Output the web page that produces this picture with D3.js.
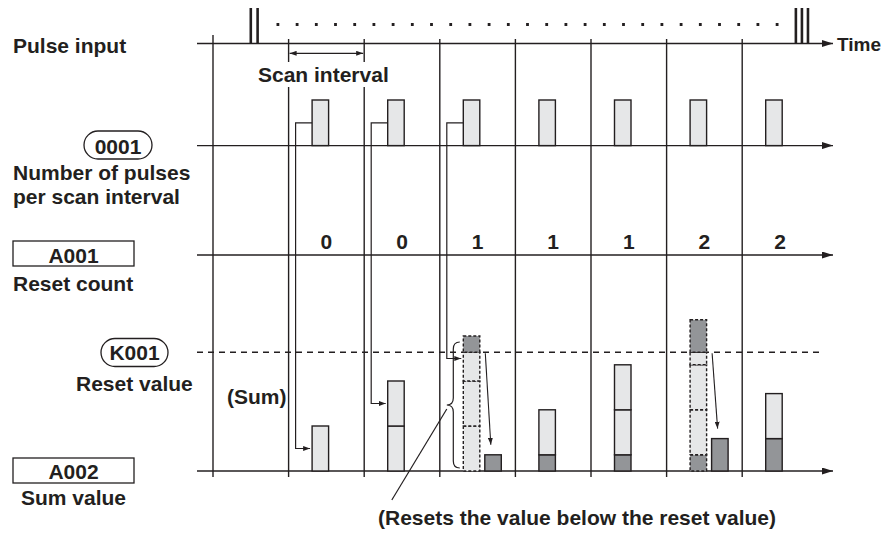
<!DOCTYPE html>
<html>
<head>
<meta charset="utf-8">
<script src="https://cdn.jsdelivr.net/npm/d3@7"></script>
<style>
  body { margin: 0; background: #fff; }
  text { font-family: "Liberation Sans", Arial, sans-serif; font-weight: bold; fill: #231f20; }
</style>
</head>
<body>
<div id="chart"></div>
<script>
// Values (one pulse arrives per scan interval)
var intervals    = [0, 1, 2, 3, 4, 5, 6],
    pulseCounts  = [1, 1, 1, 1, 1, 1, 1],
    resetCounts  = ["0", "0", "1", "1", "1", "2", "2"],
    carried      = [0, 0, 0, 0.36, 0.36, 0.36, 0.72],   // remainder kept after a reset
    added        = [1, 2, 3, 1, 2, 3, 1],                // pulses summed since the last reset
    remainder    = [null, null, 0.36, null, null, 0.72, null],
    resetValue   = 2.64,
    feedback     = [0, 1, 2],
    trainStart   = [0.5, 0.59],
    trainEnd     = [7.71, 7.79, 7.87];

var width = 891, height = 534,
    ink = "#231f20", light = "#e6e7e8", dark = "#939598";

var svg = d3.select("#chart").append("svg")
  .attr("width", width).attr("height", height);

var defs = svg.append("defs");
function marker(id, len, wid) {
  defs.append("marker")
    .attr("id", id)
    .attr("markerUnits", "userSpaceOnUse")
    .attr("viewBox", "0 0 " + len + " " + wid)
    .attr("refX", len).attr("refY", wid / 2)
    .attr("markerWidth", len).attr("markerHeight", wid)
    .attr("orient", "auto-start-reverse")
    .append("path")
      .attr("d", "M0,0L" + len + "," + (wid / 2) + "L0," + wid + "Z")
      .attr("fill", ink);
}
marker("axisArrow", 11, 7);
marker("smallArrow", 7, 5);

// time runs along x: gridline k sits at t(k), interval i spans t(i+1)..t(i+2)
var t = d3.scaleLinear().domain([0, 8]).range([213, 817.8]);
var yPulse = d3.scaleLinear().domain([0, 1]).range([145.6, 100]);
var ySum = d3.scaleLinear().domain([0, 1]).range([471, 426]);

var rowY = [43.5, yPulse(0), 255, ySum(0)];
var barW = 16.5, barOff = 23.5, remOff = 45;

// vertical gridlines
var gx = svg.append("g").attr("stroke", ink).attr("stroke-width", 1.4);
d3.range(8).forEach(function(k) {
  var top = k === 0 ? 35 : 39;
  if (k === 1 || k === 2) {
    gx.append("line").attr("x1", t(k)).attr("x2", t(k)).attr("y1", top).attr("y2", 62);
    gx.append("line").attr("x1", t(k)).attr("x2", t(k)).attr("y1", 87).attr("y2", 477);
  } else {
    gx.append("line").attr("x1", t(k)).attr("x2", t(k)).attr("y1", top).attr("y2", 477);
  }
});

// horizontal time axes
svg.append("g").selectAll("line").data(rowY).enter().append("line")
  .attr("x1", 197).attr("x2", 833)
  .attr("y1", function(d) { return d; }).attr("y2", function(d) { return d; })
  .attr("stroke", ink).attr("stroke-width", 1.4)
  .attr("marker-end", "url(#axisArrow)");

// reset value level
svg.append("line")
  .attr("x1", 197).attr("x2", 822)
  .attr("y1", ySum(resetValue)).attr("y2", ySum(resetValue))
  .attr("stroke", ink).attr("stroke-width", 1.4)
  .attr("stroke-dasharray", "6,5");

// pulse train on the top row
svg.append("g").selectAll("line").data(trainStart.concat(trainEnd)).enter().append("line")
  .attr("x1", function(d) { return t(d); }).attr("x2", function(d) { return t(d); })
  .attr("y1", 8).attr("y2", rowY[0])
  .attr("stroke", ink).attr("stroke-width", 2.6);

svg.append("line")
  .attr("x1", t(0.84)).attr("x2", t(7.6))
  .attr("y1", 24.5).attr("y2", 24.5)
  .attr("stroke", ink).attr("stroke-width", 2.8)
  .attr("stroke-dasharray", "2.8,16.4");

// scan interval marker
svg.append("line")
  .attr("x1", t(1) + 1).attr("x2", t(2) - 1)
  .attr("y1", 53.3).attr("y2", 53.3)
  .attr("stroke", ink).attr("stroke-width", 1.3)
  .attr("marker-start", "url(#smallArrow)")
  .attr("marker-end", "url(#smallArrow)");

// pulses per scan interval
svg.append("g").selectAll("rect").data(intervals).enter().append("rect")
  .attr("x", function(i) { return t(i + 1) + barOff; })
  .attr("y", function(i) { return yPulse(pulseCounts[i]); })
  .attr("width", barW)
  .attr("height", function(i) { return yPulse(0) - yPulse(pulseCounts[i]); })
  .attr("fill", light).attr("stroke", ink).attr("stroke-width", 1.4);

// reset count numbers
svg.append("g").selectAll("text").data(intervals).enter().append("text")
  .attr("x", function(i) { return t(i + 1.5); })
  .attr("y", 249)
  .attr("text-anchor", "middle")
  .attr("font-size", 21)
  .text(function(i) { return resetCounts[i]; });

// stacked sum bars
function segments(i) {
  var c = carried[i], total = c + added[i], over = total > resetValue, segs = [];
  if (c > 0) segs.push({ a: 0, b: c, fill: dark, dashed: over });
  for (var k = 0; k < added[i]; k++) {
    var a = c + k, b = c + k + 1;
    if (over && a < resetValue && b > resetValue) {
      segs.push({ a: a, b: resetValue, fill: light, dashed: true });
      segs.push({ a: resetValue, b: b, fill: dark, dashed: true });
    } else {
      segs.push({ a: a, b: b, fill: light, dashed: over });
    }
  }
  segs.forEach(function(s) { s.i = i; });
  return segs;
}

var sumG = svg.append("g");
intervals.forEach(function(i) {
  sumG.append("g").selectAll("rect").data(segments(i)).enter().append("rect")
    .attr("x", function(s) { return t(s.i + 1) + barOff; })
    .attr("y", function(s) { return ySum(s.b); })
    .attr("width", barW)
    .attr("height", function(s) { return ySum(s.a) - ySum(s.b); })
    .attr("fill", function(s) { return s.fill; })
    .attr("stroke", ink).attr("stroke-width", 1.4)
    .attr("stroke-dasharray", function(s) { return s.dashed ? "3,2" : null; });
});

// remainder after reset, with arrows from the reset level
var rem = intervals.filter(function(i) { return remainder[i] !== null; });
svg.append("g").selectAll("rect").data(rem).enter().append("rect")
  .attr("x", function(i) { return t(i + 1) + remOff; })
  .attr("y", function(i) { return ySum(remainder[i]); })
  .attr("width", barW)
  .attr("height", function(i) { return ySum(0) - ySum(remainder[i]); })
  .attr("fill", dark).attr("stroke", ink).attr("stroke-width", 1.4);

svg.append("g").selectAll("line").data(rem).enter().append("line")
  .attr("x1", function(i) { return t(i + 1) + remOff + 0.5; })
  .attr("y1", ySum(resetValue) + 1)
  .attr("x2", function(i) { return t(i + 1) + remOff + 6; })
  .attr("y2", function(i) { return ySum(remainder[i]) - 10; })
  .attr("stroke", ink).attr("stroke-width", 1.1)
  .attr("marker-end", "url(#smallArrow)");

// pulses fed into the sum
svg.append("g").selectAll("path").data(feedback).enter().append("path")
  .attr("d", function(i) {
    var bx = t(i + 1) + barOff, vx = t(i + 1) + 7;
    return "M" + bx + "," + yPulse(0.5) + "H" + vx +
           "V" + ySum(carried[i] + added[i] - 0.5) + "H" + (bx - 2);
  })
  .attr("fill", "none").attr("stroke", ink).attr("stroke-width", 1.2)
  .attr("marker-end", "url(#smallArrow)");

// brace around the overflowing sum
var bi = 2, bxr = t(bi + 1) + 20, bxm = t(bi + 1) + 13.5, bxt = t(bi + 1) + 7,
    byT = ySum(added[bi]) + 6, byB = ySum(0) - 3, byM = (byT + byB) / 2;
svg.append("path")
  .attr("d", "M" + bxr + "," + byT + "Q" + bxm + "," + byT + " " + bxm + "," + (byT + 7) +
             "V" + (byM - 7) + "Q" + bxm + "," + byM + " " + bxt + "," + byM +
             "Q" + bxm + "," + byM + " " + bxm + "," + (byM + 7) +
             "V" + (byB - 7) + "Q" + bxm + "," + byB + " " + bxr + "," + byB)
  .attr("fill", "none").attr("stroke", ink).attr("stroke-width", 1.2);

svg.append("line")
  .attr("x1", bxt).attr("y1", byM + 4)
  .attr("x2", bxt - 55).attr("y2", 500)
  .attr("stroke", ink).attr("stroke-width", 1.2);

// labels
var labels = [
  { text: "Pulse input", x: 13, y: 52.5, size: 21 },
  { text: "Number of pulses", x: 13, y: 180, size: 21 },
  { text: "per scan interval", x: 13, y: 204, size: 21 },
  { text: "Reset count", x: 13, y: 290.5, size: 21 },
  { text: "Reset value", x: 76, y: 390.5, size: 21 },
  { text: "Sum value", x: 21, y: 505, size: 21 },
  { text: "(Sum)", x: 227, y: 404, size: 21 },
  { text: "Scan interval", x: 258, y: 81.5, size: 21 },
  { text: "Time", x: 837, y: 51, size: 19 },
  { text: "(Resets the value below the reset value)", x: 378, y: 525, size: 21 }
];
svg.append("g").selectAll("text").data(labels).enter().append("text")
  .attr("x", function(d) { return d.x; }).attr("y", function(d) { return d.y; })
  .attr("font-size", function(d) { return d.size; })
  .text(function(d) { return d.text; });

// device tags: plain boxes and rounded pills
var tags = [
  { text: "0001", x: 84, y: 131, w: 68, h: 28, r: 14, ty: 154 },
  { text: "A001", x: 13, y: 241, w: 121, h: 25, r: 0, ty: 262.5 },
  { text: "K001", x: 101, y: 338.5, w: 67, h: 28, r: 14, ty: 360 },
  { text: "A002", x: 13, y: 458, w: 121, h: 25, r: 0, ty: 478.5 }
];
var tg = svg.append("g").selectAll("g").data(tags).enter().append("g");
tg.append("rect")
  .attr("x", function(d) { return d.x; }).attr("y", function(d) { return d.y; })
  .attr("width", function(d) { return d.w; }).attr("height", function(d) { return d.h; })
  .attr("rx", function(d) { return d.r; })
  .attr("fill", "#fff").attr("stroke", ink).attr("stroke-width", 1.3);
tg.append("text")
  .attr("x", function(d) { return d.x + d.w / 2; }).attr("y", function(d) { return d.ty; })
  .attr("text-anchor", "middle").attr("font-size", 21)
  .text(function(d) { return d.text; });
</script>
</body>
</html>
